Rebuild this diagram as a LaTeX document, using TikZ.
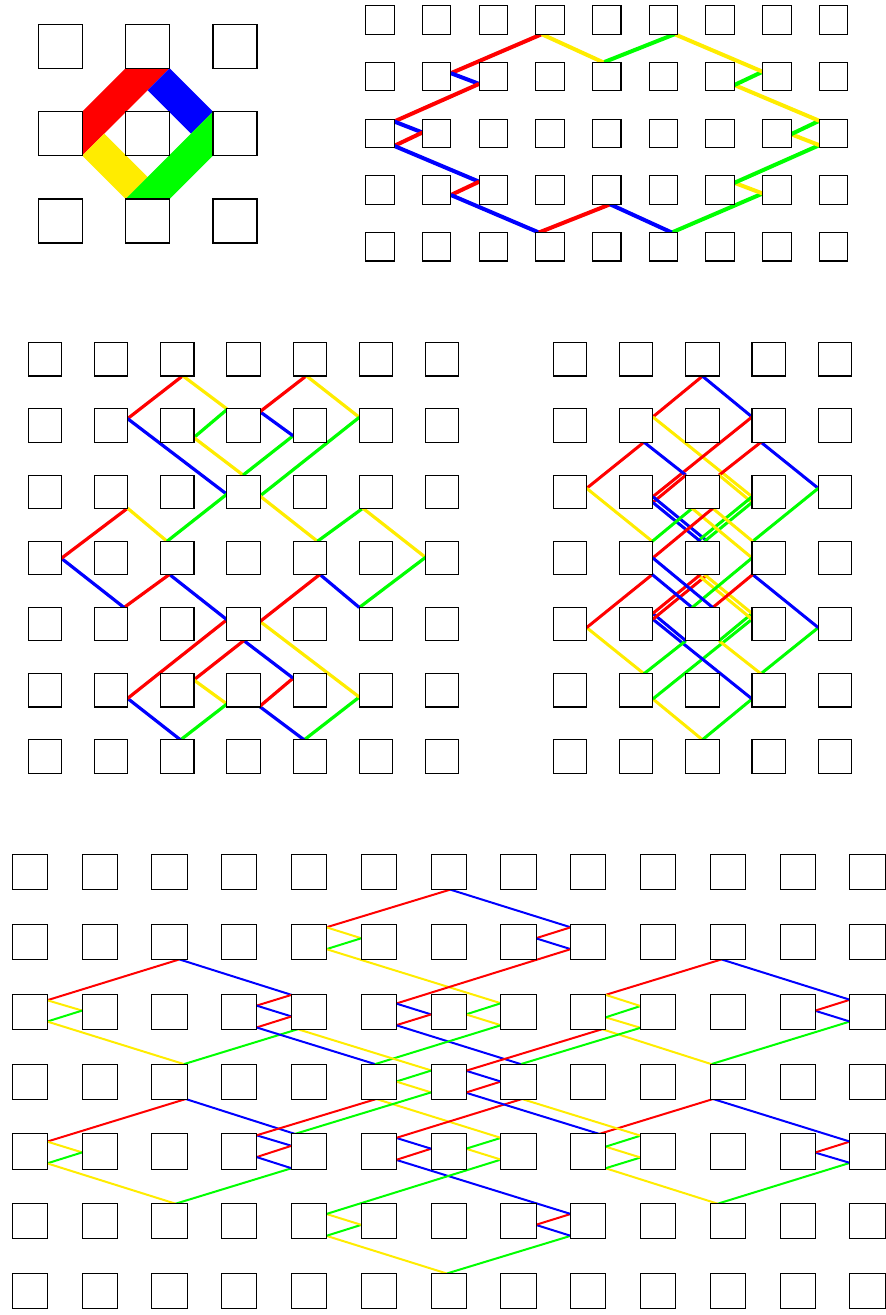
\documentclass[tikz,border=0pt]{standalone}
\definecolor{cR}{RGB}{255,0,0}
\definecolor{cB}{RGB}{0,0,255}
\definecolor{cG}{RGB}{0,255,0}
\definecolor{cY}{RGB}{255,236,0}
\tikzset{
  peg/.style={draw=black, fill=white, line width=0.8pt},
  R/.style={draw=cR}, B/.style={draw=cB}, G/.style={draw=cG}, Y/.style={draw=cY}
}
% panel 2: pair with its 180-degree copy
\newcommand\rpA[4]{\draw[#1] (#3)--(#4); \draw[#2,rotate around={180:(606.75,133.35)}] (#3)--(#4);}
% panel 3
\newcommand\rpC[4]{\draw[#1] (#3)--(#4); \draw[#2,rotate around={180:(3.25,3.25)}] (#3)--(#4);}
% panel 5
\newcommand\rpE[4]{\draw[#1] (#3)--(#4); \draw[#2,rotate around={180:(6.25,3.25)}] (#3)--(#4);}
% panel 4: four mirror copies
\newcommand\fourseg[6]{\draw[#1] (#5)--(#6); \draw[#2,xscale=-1] (#5)--(#6); \draw[#3,yscale=-1] (#5)--(#6); \draw[#4,xscale=-1,yscale=-1] (#5)--(#6);}
\begin{document}
\begin{tikzpicture}[x=0.75pt,y=-0.75pt]
\useasboundingbox (0,0) rectangle (886,1315);

% ---------------- panel 1 ----------------
\fill[cR] (82.3,111.65) -- (125.65,68.3) -- (169.65,68.3) -- (82.3,155.65) -- cycle;
\fill[cB] (169.65,68.3) -- (213,111.65) -- (191,133.65) -- (147.65,90.3) -- cycle;
\fill[cY] (82.3,155.65) -- (125.65,199) -- (147.65,177) -- (104.3,133.65) -- cycle;
\fill[cG] (213,111.65) -- (213,155.65) -- (169.65,199) -- (125.65,199) -- cycle;
\foreach \i in {0,1,2} \foreach \j in {0,1,2}
  \draw[peg] ({38.3+87.35*\i},{24.3+87.35*\j}) rectangle +(44,44);

% ---------------- panel 2 ----------------
\begin{scope}[line width=3pt]
\rpA{R}{G}{450.9,73.2}{541.75,34.2}
\rpA{B}{Y}{450.9,73.2}{479.1,83.9}
\rpA{R}{G}{479.1,83.9}{394.2,121.5}
\rpA{B}{Y}{394.2,121.5}{422.4,132.5}
\rpA{R}{G}{422.4,132.5}{394.2,145.9}
\rpA{B}{Y}{394.2,145.9}{479.1,181.7}
\rpA{R}{G}{479.1,181.7}{450.9,195}
\rpA{B}{Y}{450.9,195}{538.9,232.5}
\rpA{R}{G}{538.9,232.5}{610.1,204.3}
\rpA{B}{Y}{610.1,204.3}{671.75,232.5}
\end{scope}
\foreach \i in {0,...,8} \foreach \j in {0,...,4}
  \draw[peg] ({365.7+56.7*\i},{5.7+56.7*\j}) rectangle +(28.5,28.5);

% ---------------- panel 3 ----------------
\begin{scope}[shift={(21.225pt,-257.025pt)}, x=49.65pt, y=-49.65pt]
\begin{scope}[line width=2.4pt]
\rpC{R}{G}{1.5,1.147}{2.333,0.5}
\rpC{Y}{B}{2.333,0.5}{3,1}
\rpC{G}{R}{3,1.01}{2.5,1.433}
\rpC{Y}{B}{2.5,1.433}{3.245,2}
\rpC{B}{Y}{1.5,1.147}{3,2.29}
\rpC{G}{R}{3.245,2}{4,1.406}
\rpC{B}{Y}{3.5,1.042}{4,1.406}
\rpC{R}{G}{3.5,1.042}{4.2,0.5}
\rpC{Y}{B}{4.2,0.5}{5,1.127}
\rpC{G}{R}{5,1.127}{3.5,2.316}
\rpC{Y}{B}{3.5,2.316}{4.368,3}
\rpC{G}{R}{4.368,3}{5.054,2.5}
\rpC{Y}{B}{5.054,2.5}{6,3.243}
\rpC{G}{R}{6,3.243}{5,4}
\rpC{B}{Y}{5,4}{4.404,3.5}
\rpC{R}{G}{4.404,3.5}{3.5,4.212}
\end{scope}
\foreach \i in {0,...,6} \foreach \j in {0,...,6}
  \draw[peg] (\i,\j) rectangle +(0.503,0.503);
\end{scope}

% ---------------- panel 4 ----------------
\begin{scope}[shift={(526.84pt,-418.46pt)}]
\begin{scope}[line width=2.25pt]
\fourseg{R}{B}{Y}{G}{0,-181.8}{-49.6,-141}
\fourseg{Y}{R}{G}{B}{-49.6,-141}{49.6,-61.25}
\fourseg{R}{B}{Y}{G}{-58.45,-115.8}{-115.8,-69.65}
\fourseg{B}{R}{G}{Y}{-58.45,-115.8}{-16.6,-82.8}
\fourseg{R}{Y}{B}{G}{-16.6,-82.8}{-49.6,-55.5}
\fourseg{Y}{G}{R}{B}{-115.8,-69.65}{-50.2,-16.6}
\fourseg{B}{G}{R}{Y}{-49.6,-61.25}{5,-16.6}
\fourseg{B}{G}{R}{Y}{-49.6,-55.5}{-2,-16.6}
\fourseg{G}{Y}{B}{R}{-50.2,-16.6}{-10.3,-49.6}
\fourseg{Y}{R}{G}{B}{-10.3,-49.6}{49.6,0}
\end{scope}
\foreach \i in {-2,...,2} \foreach \j in {-3,...,3}
  \draw[peg] ({66.2*\i-16.65},{66.2*\j-16.65}) rectangle +(33.3,33.3);
\end{scope}

% ---------------- panel 5 ----------------
\begin{scope}[shift={(9.225pt,-641.025pt)}, x=52.35pt, y=-52.35pt]
\begin{scope}[line width=1.5pt]
\rpE{R}{G}{0.5,2.085}{2.394,1.5}
\rpE{B}{Y}{2.394,1.5}{4,2.008}
\rpE{Y}{B}{0.5,2.085}{1,2.233}
\rpE{G}{R}{1,2.233}{0.5,2.39}
\rpE{Y}{B}{0.5,2.39}{2.46,3}
\rpE{G}{R}{2.46,3}{4.09,2.5}
\rpE{R}{G}{3.5,2.162}{4,2.008}
\rpE{B}{Y}{3.5,2.162}{4,2.317}
\rpE{R}{G}{4,2.317}{3.5,2.475}
\rpE{B}{Y}{3.5,2.475}{5.198,3}
\rpE{R}{G}{0.5,4.11}{2.485,3.5}
\rpE{B}{Y}{2.485,3.5}{4.05,4}
\rpE{Y}{B}{0.5,4.11}{1,4.265}
\rpE{G}{R}{1,4.265}{0.5,4.422}
\rpE{Y}{B}{0.5,4.422}{2.34,5}
\rpE{G}{R}{2.34,5}{4,4.492}
\rpE{B}{Y}{3.5,4.02}{4,4.17}
\rpE{R}{G}{3.5,4.332}{4,4.17}
\rpE{B}{Y}{3.5,4.332}{4,4.492}
\rpE{R}{G}{3.5,4.02}{5.215,3.5}
\rpE{R}{G}{4.5,1.04}{6.275,0.5}
\rpE{B}{Y}{6.275,0.5}{8,1.04}
\rpE{Y}{B}{4.5,1.04}{5,1.197}
\rpE{G}{R}{5,1.197}{4.5,1.353}
\rpE{Y}{B}{4.5,1.353}{7,2.128}
\rpE{R}{G}{7.5,1.197}{8,1.04}
\rpE{B}{Y}{7.5,1.197}{8,1.353}
\rpE{R}{G}{8,1.353}{5.5,2.132}
\rpE{B}{Y}{5.5,2.132}{6,2.288}
\rpE{R}{G}{6,2.288}{5.5,2.443}
\rpE{B}{Y}{5.5,2.443}{7.285,3}
\rpE{G}{R}{6.5,2.288}{7,2.128}
\rpE{Y}{B}{6.5,2.288}{7,2.443}
\rpE{G}{R}{7,2.443}{5.198,3}
\rpE{Y}{B}{4.09,2.5}{6,3.09}
\rpE{G}{R}{5.5,3.25}{6,3.093}
\rpE{Y}{B}{5.5,3.25}{6,3.405}
\rpE{G}{R}{6,3.405}{4.05,4}
\end{scope}
\foreach \i in {0,...,12} \foreach \j in {0,...,6}
  \draw[peg] (\i,\j) rectangle +(0.505,0.505);
\end{scope}
\end{tikzpicture}
\end{document}
